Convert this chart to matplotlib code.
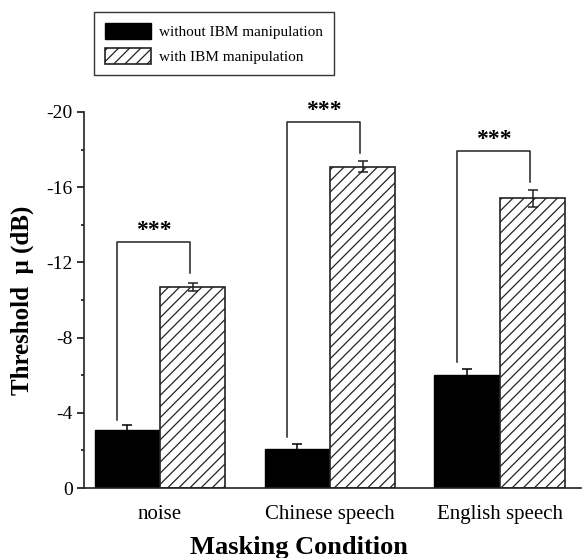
import numpy as np
import matplotlib
matplotlib.use("Agg")
import matplotlib.pyplot as plt
from matplotlib.ticker import MultipleLocator

# ── DATA ──────────────────────────────────────────────────
conditions = ["noise", "Chinese speech", "English speech"]
without_ibm = [-3.1, -2.1, -6.0]
without_err = [0.25, 0.22, 0.33]
with_ibm = [-10.7, -17.1, -15.4]
with_err = [0.2, 0.3, 0.45]
series_labels = ["without IBM manipulation", "with IBM manipulation"]

# significance brackets: top, left leg end, right leg end (dB)
bracket_top = [-13.1, -19.45, -17.95]
bracket_left_end = [-3.6, -2.7, -6.7]
bracket_right_end = [-11.45, -17.8, -16.3]
sig_text = ["***", "***", "***"]

# ── STYLE ─────────────────────────────────────────────────
plt.rcParams["font.family"] = ["Liberation Serif", "DejaVu Serif"]
plt.rcParams["hatch.linewidth"] = 0.9
plt.rcParams["hatch.color"] = "#222222"

fig = plt.figure(figsize=(5.82, 5.58), dpi=100)
ax = fig.add_axes([0.1443, 0.1254, 0.8537, 0.6739])

x = np.arange(len(conditions))
w = 0.385

b1 = ax.bar(x - w / 2, without_ibm, w, color="black", edgecolor="black",
            linewidth=1.0, label=series_labels[0])
b2 = ax.bar(x + w / 2, with_ibm, w, color="white", edgecolor="#222222",
            linewidth=1.2, hatch="///", label=series_labels[1])

ax.errorbar(x - w / 2, without_ibm, yerr=without_err, fmt="none",
            ecolor="black", elinewidth=1.1, capsize=3.5, capthick=1.1)
ax.errorbar(x + w / 2, with_ibm, yerr=with_err, fmt="none",
            ecolor="#222222", elinewidth=1.1, capsize=3.5, capthick=1.1)

# brackets with stars
for i in range(len(conditions)):
    xl = x[i] - 0.25
    xr = x[i] + 0.175
    ax.plot([xl, xl, xr, xr],
            [bracket_left_end[i], bracket_top[i], bracket_top[i], bracket_right_end[i]],
            color="#222222", linewidth=1.1, clip_on=False)
    ax.text((xl + xr) / 2, bracket_top[i] - 0.05, sig_text[i], ha="center",
            va="bottom", fontsize=17, fontweight="bold", clip_on=False)

# ── AXES ──────────────────────────────────────────────────
ax.set_xlim(-0.447, 2.476)
ax.set_ylim(0, -20)
ax.yaxis.set_major_locator(MultipleLocator(4))
ax.yaxis.set_minor_locator(MultipleLocator(2))
ax.set_yticklabels([f"{int(v)}" for v in ax.get_yticks()])
ax.set_xticks(x)
ax.set_xticklabels(conditions, fontsize=15)
ax.tick_params(axis="x", length=0, pad=12)
ax.tick_params(axis="y", which="major", length=5, width=1.1, labelsize=14, pad=3)
ax.tick_params(axis="y", which="minor", length=2.5, width=1.1)

for s in ["top", "right"]:
    ax.spines[s].set_visible(False)
for s in ["left", "bottom"]:
    ax.spines[s].set_linewidth(1.2)
    ax.spines[s].set_color("#222222")

ax.set_ylabel("Threshold  \u03bc (dB)", fontsize=18, fontweight="bold")
ax.yaxis.set_label_coords(-0.1, 0.5)
ax.set_xlabel("Masking Condition", fontsize=19, fontweight="bold")
ax.xaxis.set_label_coords(0.433, -0.127)

leg = fig.legend(handles=[b1, b2], loc="upper left",
                 bbox_to_anchor=(94 / 582, 1 - 12 / 558), borderaxespad=0,
                 fontsize=11, frameon=True, fancybox=False, handlelength=3.0,
                 handleheight=1.2, labelspacing=0.55, borderpad=0.75,
                 handletextpad=0.5)
leg.get_frame().set_edgecolor("black")
leg.get_frame().set_linewidth(1.0)

fig.savefig("out.png", dpi=100)
